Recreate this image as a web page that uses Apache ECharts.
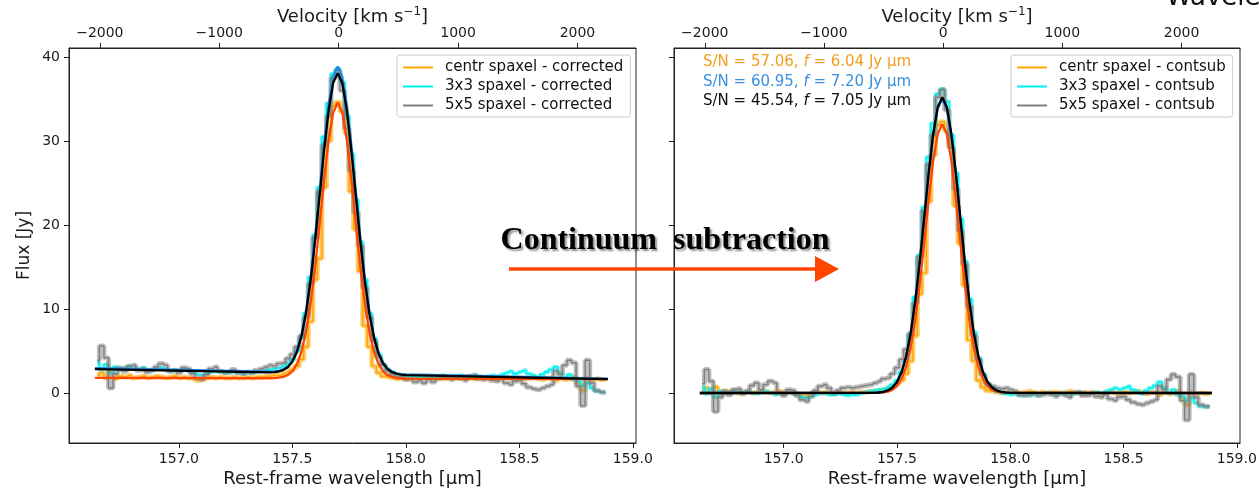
<!DOCTYPE html>
<html><head><meta charset="utf-8">
<script src="https://cdn.jsdelivr.net/npm/echarts@6/dist/echarts.min.js"></script>
<style>html,body{margin:0;padding:0;background:#fff}#c{width:1259px;height:489px}</style>
</head><body><div id="c"></div>
<script>
// ---- data ----
const wl = [
156.64,156.66,156.68,156.70,156.72,156.74,156.76,156.78,156.80,156.82,
156.84,156.86,156.88,156.90,156.92,156.94,156.96,156.98,157.00,157.02,
157.04,157.06,157.08,157.10,157.12,157.14,157.16,157.18,157.20,157.22,
157.24,157.26,157.28,157.30,157.32,157.34,157.36,157.38,157.40,157.42,
157.44,157.46,157.48,157.50,157.52,157.54,157.56,157.58,157.60,157.62,
157.64,157.66,157.68,157.70,157.72,157.74,157.76,157.78,157.80,157.82,
157.84,157.86,157.88,157.90,157.92,157.94,157.96,157.98,158.00,158.02,
158.04,158.06,158.08,158.10,158.12,158.14,158.16,158.18,158.20,158.22,
158.24,158.26,158.28,158.30,158.32,158.34,158.36,158.38,158.40,158.42,
158.44,158.46,158.48,158.50,158.52,158.54,158.56,158.58,158.60,158.62,
158.64,158.66,158.68,158.70,158.72,158.74,158.76,158.78,158.80,158.82,
158.84,158.86,158.88];

// left panel (corrected)
const centrCorr = [
2.1,2.4,1.8,2.5,1.7,2.0,1.9,2.1,1.8,1.9,
2.0,1.8,1.9,2.0,1.9,1.8,1.9,2.0,1.8,1.9,
1.8,1.7,1.5,1.6,1.8,1.9,1.8,1.9,1.8,1.8,
1.9,1.8,1.8,1.9,1.8,1.9,1.9,2.0,2.0,2.1,
2.1,2.3,2.5,2.8,3.2,4.0,5.5,8.5,13.5,16.0,
24.5,30.0,34.2,34.6,33.5,31.0,24.0,19.5,14.5,8.0,
5.5,3.2,2.4,2.0,1.9,1.8,1.7,1.8,1.7,1.8,
1.7,1.8,1.9,1.8,1.7,1.8,1.7,1.8,1.8,1.7,
1.8,1.9,1.8,1.7,1.8,1.7,1.8,1.7,1.6,1.8,
1.9,1.7,1.6,1.8,1.7,1.8,1.9,1.7,1.6,1.8,
1.7,1.5,1.8,1.6,1.7,1.9,1.2,0.3,1.7,1.6,
1.7,1.6,1.6];
const s3x3Corr = [
3.6,2.8,3.4,2.4,3.1,2.8,3.0,3.2,2.9,2.9,
3.0,2.8,2.7,2.9,3.0,2.8,2.6,2.7,2.6,2.8,
2.6,2.4,2.2,2.1,2.3,2.5,2.6,2.5,2.4,2.4,
2.5,2.4,2.3,2.4,2.4,2.5,2.6,2.7,2.8,2.9,
3.0,3.2,3.5,4.0,5.0,6.5,9.5,13.8,18.8,24.5,
30.5,34.5,38.0,38.6,37.0,33.0,28.5,23.0,18.0,13.5,
9.5,6.5,4.6,3.4,2.8,2.4,2.2,2.1,2.0,2.1,
1.9,2.0,1.9,2.0,1.8,2.0,2.1,2.0,1.9,2.0,
2.1,1.9,2.0,2.1,2.0,1.9,2.0,2.1,2.0,2.2,
2.4,2.6,2.3,2.5,2.7,2.3,2.1,1.8,2.2,2.5,
2.8,3.1,2.4,1.8,2.2,1.6,1.4,0.9,1.2,0.6,
0.2,0.1,0.1];
const s5x5Corr = [
3.9,5.6,4.2,0.6,2.3,3.0,2.6,3.2,3.3,2.7,
2.9,2.5,2.7,3.1,3.5,3.3,2.6,2.7,2.4,3.0,
2.9,2.3,1.8,1.6,2.2,2.9,3.1,2.6,2.4,2.5,
2.8,2.4,2.3,2.5,2.4,2.7,2.9,3.1,3.3,3.2,
3.5,3.6,4.1,4.6,5.5,6.8,9.0,13.0,18.5,24.0,
29.5,33.0,37.5,38.4,36.0,31.5,26.5,21.5,17.5,12.5,
9.0,6.2,4.3,3.3,2.6,2.2,1.9,2.0,1.6,1.7,
1.3,1.5,1.2,1.6,1.3,1.7,1.9,1.8,1.6,1.9,
1.7,1.5,2.0,2.1,1.7,1.6,1.8,1.5,1.4,1.7,
1.2,1.0,1.4,1.5,1.1,0.7,0.5,0.4,0.6,0.8,
1.0,2.6,2.2,3.3,3.9,3.6,0.8,-1.5,3.9,1.2,
0.3,0.1,0.1];

// right panel (continuum subtracted)
const centrSub = [
0.3,0.6,0.0,0.7,-0.1,0.2,0.1,0.3,0.0,0.1,
0.2,0.0,0.1,0.2,0.1,0.0,0.1,0.2,0.0,0.1,
0.0,-0.1,-0.3,-0.2,0.0,0.1,0.0,0.1,0.0,0.0,
0.1,0.0,0.0,0.1,0.0,0.1,0.1,0.2,0.2,0.3,
0.4,0.6,0.8,1.1,1.5,2.3,3.8,6.8,11.8,14.3,
22.8,28.3,31.9,32.3,31.2,29.3,22.3,17.8,12.8,6.3,
3.8,1.5,0.7,0.3,0.2,0.1,0.0,0.1,0.0,0.1,
0.0,0.1,0.2,0.1,0.0,0.1,0.0,0.1,0.1,0.0,
0.1,0.2,0.1,0.0,0.1,0.0,0.1,0.0,-0.1,0.1,
0.2,0.0,-0.1,0.1,0.0,0.1,0.2,0.0,-0.1,0.1,
0.0,-0.2,0.1,-0.1,0.0,0.2,-0.5,-1.4,0.0,-0.1,
0.0,-0.1,-0.1];
const s3x3Sub = [
0.7,-0.1,0.5,-0.5,0.2,-0.1,0.1,0.3,0.1,0.1,
0.2,0.0,-0.1,0.1,0.2,0.0,-0.2,0.0,-0.1,0.1,
-0.1,-0.3,-0.5,-0.6,-0.4,-0.2,0.0,-0.1,-0.2,-0.2,
-0.1,-0.2,-0.3,-0.2,-0.2,0.0,0.1,0.2,0.3,0.4,
0.5,0.7,1.0,1.5,2.5,4.0,7.1,11.4,16.4,22.1,
28.1,32.1,35.6,36.2,34.7,30.7,26.2,20.7,15.7,11.2,
7.2,4.2,2.3,1.1,0.6,0.2,0.0,-0.1,-0.2,-0.1,
-0.3,-0.2,-0.3,-0.2,-0.3,-0.1,0.0,-0.1,-0.2,-0.1,
0.0,-0.2,-0.1,0.1,0.0,-0.1,0.0,0.1,0.0,0.2,
0.4,0.6,0.4,0.6,0.8,0.4,0.2,-0.1,0.3,0.6,
0.9,1.3,0.6,0.0,0.4,-0.2,-0.4,-0.9,-0.6,-1.2,
-1.6,-1.6,-1.6];
const s5x5Sub = [
1.1,2.8,1.4,-2.2,-0.5,0.2,-0.2,0.4,0.5,-0.1,
0.2,0.9,1.2,0.4,1.0,1.4,1.2,0.0,-0.3,0.4,
0.3,-0.3,-0.8,-1.0,-0.4,0.3,0.8,1.0,0.6,0.0,
0.3,0.6,0.7,0.6,0.7,0.8,0.9,1.0,1.2,1.4,
1.7,1.8,2.3,3.0,4.0,5.2,7.0,10.7,16.2,21.7,
27.2,30.7,35.2,36.1,33.7,29.2,24.3,19.3,15.3,10.3,
6.8,4.0,2.1,1.1,0.8,0.6,0.5,0.6,0.4,0.2,
-0.2,-0.3,-0.2,-0.1,-0.3,-0.2,-0.1,-0.2,-0.4,-0.1,
-0.3,-0.5,0.0,0.1,-0.3,-0.3,-0.1,-0.4,-0.5,-0.2,
-0.7,-0.9,-0.5,-0.4,-0.8,-1.1,-1.3,-1.4,-1.2,-1.0,
-0.8,0.8,0.4,1.6,2.2,1.9,-0.9,-3.2,2.2,-0.5,
-1.4,-1.6,-1.6];

// fitted curves
const fitWl = [156.63,
157.40,157.42,157.44,157.46,157.48,157.50,157.52,157.54,157.56,157.58,
157.60,157.62,157.64,157.66,157.68,157.70,157.72,157.74,157.76,157.78,
157.80,157.82,157.84,157.86,157.88,157.90,157.92,157.94,157.96,157.98,158.00,
158.89];
const fitCentrCorr = [1.80,
1.76,1.78,1.82,1.92,2.14,2.59,3.44,4.91,7.23,10.56,
14.92,20.05,25.39,30.12,33.40,34.58,33.39,30.11,25.37,20.03,
14.90,10.54,7.21,4.89,3.42,2.57,2.11,1.89,1.79,1.75,1.72,
1.65];
const fit3x3Corr = [2.95,
2.54,2.57,2.64,2.81,3.16,3.84,5.00,6.89,9.72,13.60,
18.46,23.97,29.54,34.38,37.69,38.86,37.66,34.33,29.47,23.88,
18.35,13.47,9.57,6.72,4.81,3.62,2.92,2.54,2.35,2.26,2.21,
1.70];
const fit5x5Corr = [2.85,
2.46,2.49,2.56,2.73,3.07,3.73,4.88,6.74,9.51,13.30,
18.07,23.48,28.94,33.69,36.93,38.08,36.91,33.65,28.88,23.40,
17.97,13.18,9.36,6.57,4.69,3.52,2.84,2.48,2.29,2.20,2.14,
1.65];
const fitCentrSub = [0,
0.01,0.03,0.07,0.17,0.38,0.83,1.66,3.09,5.34,8.59,
12.84,17.84,23.04,27.65,30.85,32.0,30.85,27.65,23.04,17.84,
12.84,8.59,5.34,3.09,1.66,0.83,0.38,0.17,0.07,0.03,0.01,
0];
const fit3x3Sub = [0,
0.02,0.06,0.14,0.31,0.65,1.31,2.44,4.27,6.99,10.72,
15.39,20.69,26.04,30.69,33.87,35.0,33.87,30.69,26.04,20.69,
15.39,10.72,6.99,4.27,2.44,1.31,0.65,0.31,0.14,0.06,0.02,
0];
const fit5x5Sub = [0,
0.02,0.06,0.14,0.31,0.66,1.32,2.46,4.29,7.03,10.78,
15.47,20.80,26.19,30.86,34.06,35.2,34.06,30.86,26.19,20.80,
15.47,10.78,7.03,4.29,2.46,1.32,0.66,0.31,0.14,0.06,0.02,
0];

const wlTicks = [157.0, 157.5, 158.0, 158.5, 159.0];
const velTicks = [-2000, -1000, 0, 1000, 2000];
const fluxTicks = [0, 10, 20, 30, 40];
const namesCorr = ['centr spaxel - corrected', '3x3 spaxel - corrected', '5x5 spaxel - corrected'];
const namesSub = ['centr spaxel - contsub', '3x3 spaxel - contsub', '5x5 spaxel - contsub'];
const snLines = [
  {sn: '57.06', f: '6.04'},
  {sn: '60.95', f: '7.20'},
  {sn: '45.54', f: '7.05'}
];

// ---- chart ----
const LIGHT_C = 299792.458, LAM0 = 157.704;
const XMIN = 156.516, XMAX = 159.014, YMIN = -5.95, YMAX = 41.07;
const toVel = l => (l / LAM0 - 1) * LIGHT_C;
const FONT = 'DejaVu Sans';
const TXT = '#1a1a1a';
const dataColors = ['#ffa500', '#00f0f0', '#808080'];
const fitColors = ['#ff4500', '#1e88e5', '#000000'];
const annColors = ['#f0a020', '#3b8fe0', '#111111'];

const pairs = (xs, ys) => xs.map((x, i) => [x, ys[i]]);

const grid = [
  {left: 69, top: 48, width: 567, height: 395, show: true, borderColor: '#222', borderWidth: 1,
   backgroundColor: 'transparent', containLabel: false, outerBoundsMode: 'none'},
  {left: 674, top: 48, width: 566, height: 395, show: true, borderColor: '#222', borderWidth: 1,
   backgroundColor: 'transparent', containLabel: false, outerBoundsMode: 'none'}
];

function wlAxis(g) {
  return {
    type: 'value', gridIndex: g, position: 'bottom', min: XMIN, max: XMAX,
    axisLine: {show: true, onZero: false, lineStyle: {color: '#222', width: 1}},
    axisTick: {show: true, length: 5, customValues: wlTicks, lineStyle: {color: '#222'}},
    axisLabel: {customValues: wlTicks, formatter: v => Number(v).toFixed(1), fontSize: 14, color: TXT, margin: 9, fontFamily: FONT},
    splitLine: {show: false},
    name: 'Rest-frame wavelength [μm]', nameLocation: 'middle', nameGap: 27, nameMoveOverlap: false,
    nameTextStyle: {fontSize: 18, color: TXT, fontFamily: FONT}
  };
}
function velAxis(g) {
  return {
    type: 'value', gridIndex: g, position: 'top', min: toVel(XMIN), max: toVel(XMAX),
    axisLine: {show: true, onZero: false, lineStyle: {color: '#222', width: 1}},
    axisTick: {show: true, length: 5, customValues: velTicks, lineStyle: {color: '#222'}},
    axisLabel: {customValues: velTicks, formatter: v => String(Math.round(v)).replace('-', '\u2212'), fontSize: 14, color: TXT, margin: 8, fontFamily: FONT},
    splitLine: {show: false},
    name: 'Velocity [km s{sup|\u22121}]', nameLocation: 'middle', nameGap: 20, nameMoveOverlap: false,
    nameTextStyle: {fontSize: 18, color: TXT, fontFamily: FONT,
      rich: {sup: {fontSize: 12, color: TXT, fontFamily: FONT, padding: [0, 0, 10, 0]}}}
  };
}
function fluxAxis(g, labels) {
  const a = {
    type: 'value', gridIndex: g, position: 'left', min: YMIN, max: YMAX,
    axisLine: {show: true, onZero: false, lineStyle: {color: '#222', width: 1}},
    axisTick: {show: true, length: 5, customValues: fluxTicks, lineStyle: {color: '#222'}},
    axisLabel: {show: labels, customValues: fluxTicks, fontSize: 14, color: TXT, margin: 9, fontFamily: FONT},
    splitLine: {show: false}
  };
  if (labels) {
    a.name = 'Flux [Jy]'; a.nameLocation = 'middle'; a.nameGap = 36; a.nameMoveOverlap = false;
    a.nameTextStyle = {fontSize: 17, color: TXT, fontFamily: FONT};
  }
  return a;
}

const series = [];
function addPanel(p, names, dataSets, fits) {
  const xi = p * 2, yi = p;
  dataSets.forEach((ys, k) => {
    series.push({
      type: 'line', name: names[k] + ' band', xAxisIndex: xi, yAxisIndex: yi,
      data: pairs(wl, ys), step: 'middle', symbol: 'none', silent: true,
      lineStyle: {color: dataColors[k], width: k === 1 ? 4 : 5, opacity: k === 2 ? 0.5 : 0.55},
      itemStyle: {color: dataColors[k]}, z: 2 + k * 2
    });
    series.push({
      type: 'line', name: names[k], xAxisIndex: xi, yAxisIndex: yi,
      data: pairs(wl, ys), step: 'middle', symbol: 'none', silent: true,
      lineStyle: {color: dataColors[k], width: 1.4},
      itemStyle: {color: dataColors[k]}, z: 3 + k * 2
    });
  });
  fits.forEach((ys, k) => {
    series.push({
      type: 'line', name: 'fit ' + k + ' ' + p, xAxisIndex: xi, yAxisIndex: yi,
      data: pairs(fitWl, ys), symbol: 'none', silent: true, smooth: false,
      lineStyle: {color: fitColors[k], width: 2.3},
      itemStyle: {color: fitColors[k]}, z: 10 + k
    });
  });
}
addPanel(0, namesCorr, [centrCorr, s3x3Corr, s5x5Corr], [fitCentrCorr, fit3x3Corr, fit5x5Corr]);
addPanel(1, namesSub, [centrSub, s3x3Sub, s5x5Sub], [fitCentrSub, fit3x3Sub, fit5x5Sub]);

function legend(left, names) {
  return {
    orient: 'vertical', left: left, top: 55, data: names,
    icon: 'rect', itemWidth: 30, itemHeight: 2, itemGap: 2, selectedMode: false,
    textStyle: {fontSize: 15, color: '#111', fontFamily: FONT, lineHeight: 17, padding: [0, 0, 0, 7]},
    padding: [4, 7, 3, 6], borderColor: '#cccccc', borderWidth: 1, borderRadius: 3,
    backgroundColor: 'rgba(255,255,255,0.85)', z: 20
  };
}

const graphic = [];
snLines.forEach((s, k) => {
  graphic.push({
    type: 'text', left: 703, top: 55 + k * 19.5, z: 30,
    style: {
      text: '{a|S/N = ' + s.sn + ', }{i|f}{a| = ' + s.f + ' Jy μm}',
      rich: {
        a: {fontSize: 15, fill: annColors[k], fontFamily: FONT},
        i: {fontSize: 15, fill: annColors[k], fontFamily: FONT, fontStyle: 'italic'}
      }
    }
  });
});
graphic.push({
  type: 'text', z: 40,
  style: {
    text: 'Continuum  subtraction', x: 665, y: 241, align: 'center', verticalAlign: 'middle',
    font: 'bold 32px "Liberation Serif"', fill: '#000',
    textShadowColor: 'rgba(0,0,0,0.45)', textShadowBlur: 2, textShadowOffsetX: 2, textShadowOffsetY: 2
  }
});
graphic.push({type: 'line', z: 40, shape: {x1: 509, y1: 269, x2: 818, y2: 269}, style: {stroke: '#ff4500', lineWidth: 3.5}});
graphic.push({type: 'polygon', z: 40, shape: {points: [[815, 256], [839, 269], [815, 282]]}, style: {fill: '#ff4500'}});
graphic.push({
  type: 'text', z: 40,
  style: {text: 'Wavelength', x: 1166, y: 11, verticalAlign: 'bottom', font: '26px "DejaVu Sans"', fill: '#111'}
});

const chart = echarts.init(document.getElementById('c'), null, {renderer: 'canvas'});
chart.setOption({
  animation: false,
  backgroundColor: '#ffffff',
  grid: grid,
  xAxis: [wlAxis(0), velAxis(0), wlAxis(1), velAxis(1)],
  yAxis: [fluxAxis(0, true), fluxAxis(1, false)],
  legend: [legend(397, namesCorr), legend(1011, namesSub)],
  series: series,
  graphic: graphic
});
</script>
</body></html>
